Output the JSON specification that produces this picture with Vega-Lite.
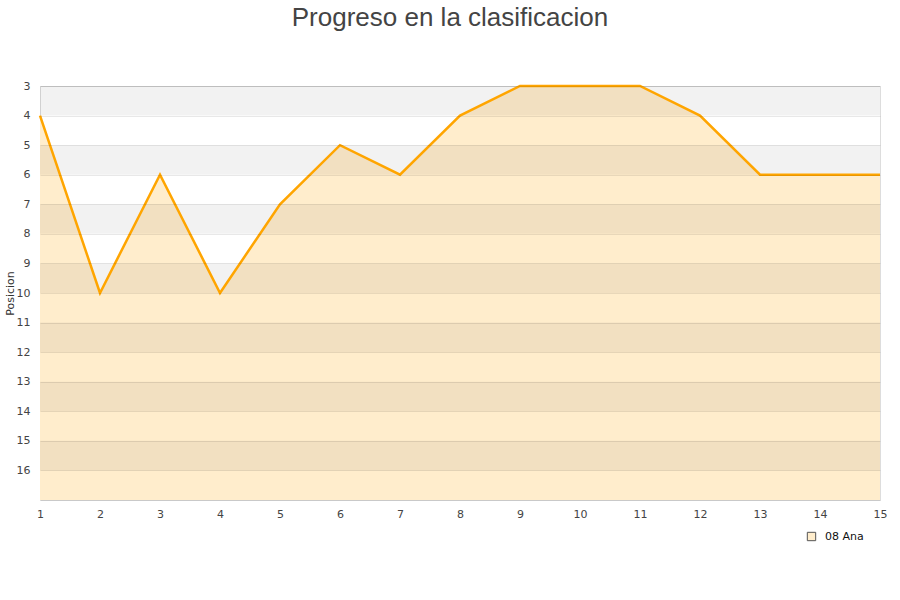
{
  "$schema": "https://vega.github.io/schema/vega-lite/v6.json",
  "width": 840,
  "height": 414,
  "autosize": {"type": "none"},
  "padding": {"left": 40, "top": 86, "right": 20, "bottom": 100},
  "background": "white",
  "title": {
    "text": "Progreso en la clasificacion",
    "font": "Liberation Sans",
    "fontSize": 26,
    "fontWeight": "normal",
    "color": "#444444",
    "anchor": "middle",
    "dx": -10,
    "offset": 49
  },
  "config": {
    "view": {"stroke": "#dddddd", "strokeWidth": 1},
    "axis": {
      "labelFont": "DejaVu Sans",
      "labelFontSize": 11,
      "labelColor": "#444444",
      "titleFont": "DejaVu Sans",
      "titleFontSize": 11,
      "titleFontWeight": "normal",
      "titleColor": "#333333",
      "domain": false,
      "ticks": false
    }
  },
  "datasets": {
    "bands": [
      {"desde": 3, "hasta": 4},
      {"desde": 5, "hasta": 6},
      {"desde": 7, "hasta": 8},
      {"desde": 9, "hasta": 10},
      {"desde": 11, "hasta": 12},
      {"desde": 13, "hasta": 14},
      {"desde": 15, "hasta": 16}
    ],
    "progreso": [
      {"jornada": 1, "posicion": 4, "equipo": "08 Ana"},
      {"jornada": 2, "posicion": 10, "equipo": "08 Ana"},
      {"jornada": 3, "posicion": 6, "equipo": "08 Ana"},
      {"jornada": 4, "posicion": 10, "equipo": "08 Ana"},
      {"jornada": 5, "posicion": 7, "equipo": "08 Ana"},
      {"jornada": 6, "posicion": 5, "equipo": "08 Ana"},
      {"jornada": 7, "posicion": 6, "equipo": "08 Ana"},
      {"jornada": 8, "posicion": 4, "equipo": "08 Ana"},
      {"jornada": 9, "posicion": 3, "equipo": "08 Ana"},
      {"jornada": 10, "posicion": 3, "equipo": "08 Ana"},
      {"jornada": 11, "posicion": 3, "equipo": "08 Ana"},
      {"jornada": 12, "posicion": 4, "equipo": "08 Ana"},
      {"jornada": 13, "posicion": 6, "equipo": "08 Ana"},
      {"jornada": 14, "posicion": 6, "equipo": "08 Ana"},
      {"jornada": 15, "posicion": 6, "equipo": "08 Ana"}
    ]
  },
  "resolve": {"scale": {"y": "shared", "x": "shared"}},
  "layer": [
    {
      "data": {"name": "progreso"},
      "mark": {"type": "area", "line": false},
      "encoding": {
        "x": {
          "field": "jornada",
          "type": "quantitative",
          "scale": {"domain": [1, 15], "nice": false, "zero": false},
          "axis": {"title": null, "tickCount": 14, "format": "d", "grid": false, "labelPadding": 8, "labelFlush": false, "labelOverlap": false}
        },
        "y": {
          "field": "posicion",
          "type": "quantitative",
          "scale": {"domain": [3, 17], "reverse": true, "zero": false, "nice": false},
          "axis": {
            "title": "Posicion",
            "tickCount": 14,
            "format": "d",
            "labelExpr": "datum.value > 16 ? '' : datum.label",
            "grid": true,
            "gridColor": "#000000",
            "gridOpacity": 0.09,
            "zindex": 1,
            "labelPadding": 10,
            "labelOverlap": false,
            "labelFlush": false,
            "labelBound": false,
            "titlePadding": 1
          }
        },
        "y2": {"datum": 17},
        "color": {
          "field": "equipo",
          "type": "nominal",
          "scale": {"range": ["#ffedcc"]},
          "legend": {
            "title": null,
            "orient": "none",
            "legendX": 766,
            "legendY": 445,
            "symbolType": "square",
            "symbolSize": 70,
            "symbolStrokeColor": "#555555",
            "symbolStrokeWidth": 1,
            "labelFont": "DejaVu Sans",
            "labelFontSize": 11,
            "labelColor": "#111111",
            "labelOffset": 8
          }
        }
      }
    },
    {
      "data": {"name": "bands"},
      "mark": {"type": "rect", "fill": "#000000", "fillOpacity": 0.052},
      "encoding": {
        "y": {"field": "desde", "type": "quantitative"},
        "y2": {"field": "hasta"}
      }
    },
    {
      "data": {"name": "progreso"},
      "mark": {"type": "line", "color": "#ffa500", "strokeWidth": 2.5},
      "encoding": {
        "x": {"field": "jornada", "type": "quantitative"},
        "y": {"field": "posicion", "type": "quantitative"}
      }
    }
  ]
}
